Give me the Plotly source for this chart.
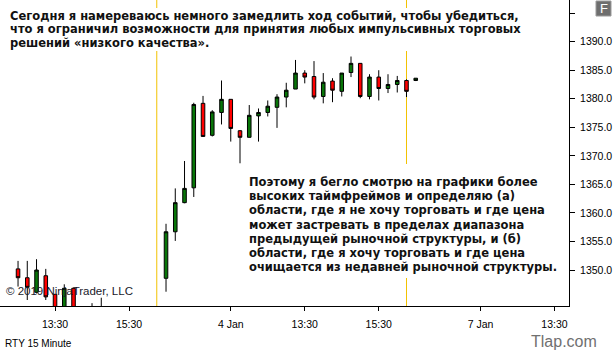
import plotly.graph_objects as go

# ---- data (bar index: 15-minute bars, 0 = first 13:30 tick) ----
bar_index = [-4, -3, -2, -1, 0, 1, 2, 3, 4, 5,
             12, 13, 14, 15, 16, 17, 18, 19, 20, 21, 22, 23, 24, 25, 26,
             27, 28, 29, 30, 31, 32, 33, 34, 35, 36, 37, 38, 39]
open_ = [1350.2, 1348.65, 1346.1, 1349.0, 1345.75, 1343.0, 1346.8, 1342.5, 1343.0, 1343.2,
         1348.55, 1356.7, 1361.8, 1364.4, 1379.2, 1373.6, 1377.6, 1379.9, 1374.4, 1373.25,
         1377.0, 1377.6, 1378.5, 1380.3, 1381.7, 1384.5, 1383.9, 1380.4, 1383.1, 1381.3,
         1384.6, 1386.2, 1380.4, 1383.8, 1381.8, 1382.5, 1383.2, 1383.2]
high = [1351.6, 1351.6, 1351.9, 1350.2, 1345.75, 1347.5, 1346.8, 1343.3, 1344.2, 1345.15,
        1358.1, 1364.3, 1369.1, 1379.3, 1380.5, 1378.0, 1383.2, 1379.9, 1374.5, 1378.9,
        1378.3, 1379.7, 1380.8, 1382.8, 1386.8, 1385.0, 1386.6, 1384.5, 1383.6, 1384.5,
        1387.4, 1386.2, 1384.3, 1385.0, 1384.3, 1384.0, 1383.4, 1383.6]
low = [1347.1, 1344.75, 1345.9, 1344.75, 1342.5, 1342.5, 1342.8, 1340.8, 1341.0, 1342.0,
       1346.2, 1355.1, 1361.7, 1362.8, 1373.3, 1373.4, 1375.5, 1372.5, 1368.7, 1373.2,
       1372.5, 1376.9, 1374.9, 1378.5, 1381.7, 1382.7, 1379.9, 1379.2, 1379.4, 1380.4,
       1383.8, 1380.1, 1379.9, 1379.7, 1381.0, 1381.1, 1380.3, 1383.1]
close = [1348.65, 1346.97, 1350.0, 1345.3, 1343.0, 1346.8, 1343.2, 1341.5, 1342.0, 1342.8,
         1356.7, 1361.8, 1364.3, 1379.0, 1373.4, 1377.7, 1379.9, 1374.8, 1373.25, 1377.1,
         1377.6, 1378.7, 1380.3, 1381.5, 1384.5, 1383.8, 1380.3, 1382.9, 1381.5, 1384.5,
         1386.2, 1380.4, 1383.8, 1381.8, 1382.5, 1383.2, 1381.3, 1383.6]

x_tick_positions = [0, 8, 19, 27, 35, 46, 54]
x_tick_labels = ["13:30", "15:30", "4 Jan", "13:30", "15:30", "7 Jan", "13:30"]
y_tick_values = [1350, 1355, 1360, 1365, 1370, 1375, 1380, 1385, 1390, 1395]
y_tick_labels = ["1350.0", "1355.0", "1360.0", "1365.0", "1370.0", "1375.0",
                 "1380.0", "1385.0", "1390.0", ""]
session_breaks = [11, 38]

text_top_lines = [
    "Сегодня я намереваюсь немного замедлить ход событий, чтобы убедиться,",
    "что я ограничил возможности для принятия любых импульсивных торговых",
    "решений «низкого качества».",
]
text_mid_lines = [
    "Поэтому я бегло смотрю на графики более",
    "высоких таймфреймов и определяю (а)",
    "области, где я не хочу торговать и где цена",
    "может застревать в пределах диапазона",
    "предыдущей рыночной структуры, и (б)",
    "области, где я хочу торговать и где цена",
    "очищается из недавней рыночной структуры.",
]

AX_FONT = dict(family="Liberation Sans, Arial, sans-serif", size=10.5, color="#000000")
TXT_FONT = dict(family="DejaVu Sans, sans-serif", size=11.5, color="#111111")

fig = go.Figure()
fig.add_trace(go.Candlestick(
    x=bar_index, open=open_, high=high, low=low, close=close,
    increasing=dict(line=dict(color="black", width=1), fillcolor="#087508"),
    decreasing=dict(line=dict(color="black", width=1), fillcolor="#ff0000"),
    whiskerwidth=0, hoverinfo="skip", showlegend=False,
))

for sb in session_breaks:
    fig.add_shape(type="line", xref="x", yref="paper", x0=sb, x1=sb, y0=0, y1=1,
                  line=dict(color="#f2c200", width=1), layer="below")

W, H = 614, 353
ml, mr, mt, mb = 0, 45, 0, 47
pw, ph = W - ml - mr, H - mt - mb

def px(xp):
    return xp / pw

def py(yp):
    return 1 - yp / ph

# white backing boxes behind the text blocks (hide the session lines)
fig.add_shape(type="rect", xref="paper", yref="paper", x0=px(4), x1=px(530), y0=py(51), y1=py(8),
              line=dict(width=0), fillcolor="white", layer="below")
fig.add_shape(type="rect", xref="paper", yref="paper", x0=px(240), x1=px(550), y0=py(278), y1=py(164),
              line=dict(width=0), fillcolor="white", layer="below")

for k, line in enumerate(text_top_lines):
    fig.add_annotation(xref="paper", yref="paper", x=px(8), y=py(15.7 + 13.8 * k),
                       xanchor="left", yanchor="middle", text="<b>" + line + "</b>",
                       showarrow=False, align="left", font=TXT_FONT)
for k, line in enumerate(text_mid_lines):
    fig.add_annotation(xref="paper", yref="paper", x=px(246.5), y=py(181.7 + 14.27 * k),
                       xanchor="left", yanchor="middle", text="<b>" + line + "</b>",
                       showarrow=False, align="left", font=TXT_FONT)

fig.add_annotation(xref="paper", yref="paper", x=px(4), y=py(291), xanchor="left", yanchor="middle",
                   text="© 2019 NinjaTrader, LLC", showarrow=False,
                   font=dict(family="Liberation Sans, Arial, sans-serif", size=11.5, color="#1a1a2a"))
fig.add_annotation(xref="paper", yref="paper", x=px(3), y=py(343), xanchor="left", yanchor="middle",
                   text="RTY 15 Minute", showarrow=False,
                   font=dict(family="Liberation Sans, Arial, sans-serif", size=10, color="#000000"))
fig.add_annotation(xref="paper", yref="paper", x=px(599), y=py(341), xanchor="right", yanchor="middle",
                   text="Tlap.com", showarrow=False,
                   font=dict(family="Liberation Sans, Arial, sans-serif", size=16, color="#707070"))
# "F" button
fig.add_shape(type="rect", xref="paper", yref="paper", x0=px(596), x1=px(611), y0=py(16), y1=py(1),
              line=dict(color="#9a9a9a", width=1), fillcolor="#6e6e6e", layer="above")
fig.add_annotation(xref="paper", yref="paper", x=px(603.5), y=py(8.5), xanchor="center", yanchor="middle",
                   text="F", showarrow=False,
                   font=dict(family="Liberation Sans, Arial, sans-serif", size=13, color="#ffffff"))

fig.update_layout(
    width=W, height=H, margin=dict(l=ml, r=mr, t=mt, b=mb, pad=0),
    paper_bgcolor="white", plot_bgcolor="white", boxgap=0.45,
    font=AX_FONT, hovermode=False,
)
fig.update_xaxes(range=[-5.95, 55.57], tickmode="array", tickvals=x_tick_positions,
                 ticktext=x_tick_labels, ticks="outside", ticklen=4, tickcolor="black",
                 showline=True, linecolor="black", linewidth=1, showgrid=False, zeroline=False,
                 rangeslider=dict(visible=False), tickfont=AX_FONT, ticklabelstandoff=4)
fig.update_yaxes(range=[1343.7, 1397.3], side="right", tickmode="array", tickvals=y_tick_values,
                 ticktext=y_tick_labels, ticks="outside", ticklen=5, tickcolor="black",
                 showline=True, linecolor="black", linewidth=1, showgrid=False, zeroline=False,
                 tickfont=AX_FONT, ticklabelstandoff=3)

fig.write_html("out.html")
